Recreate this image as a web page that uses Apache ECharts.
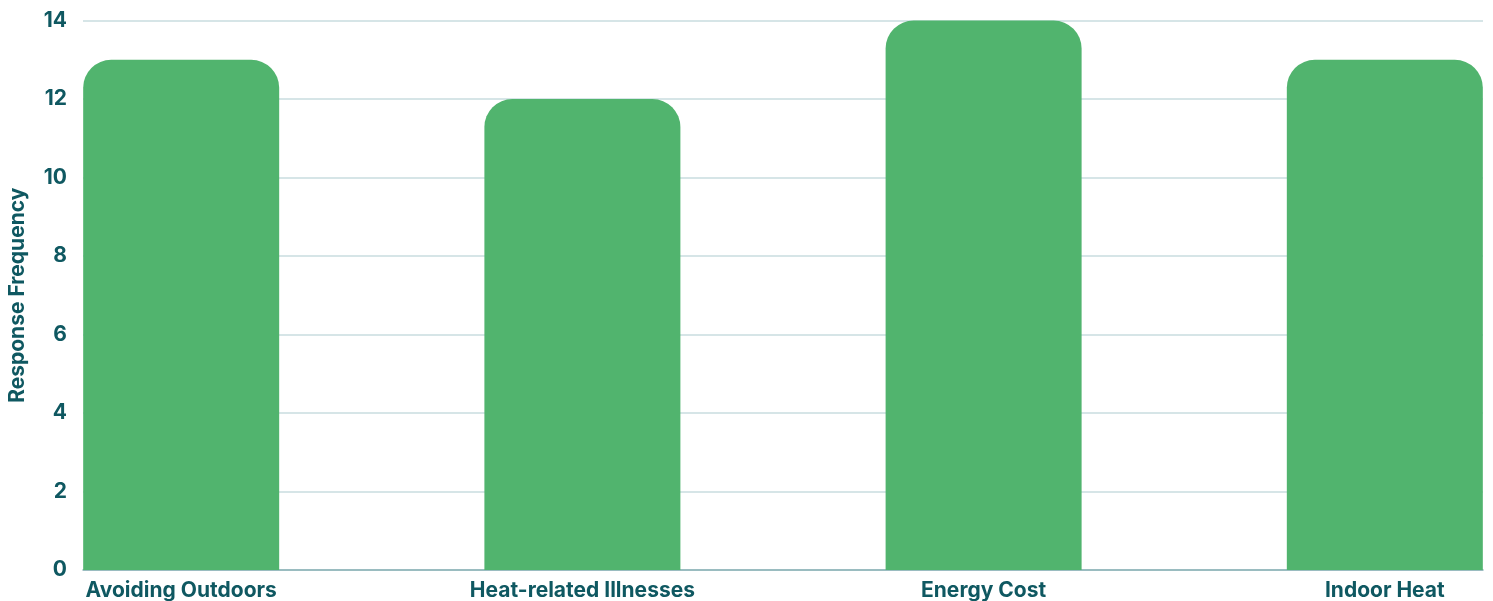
<!DOCTYPE html>
<html>
<head>
<meta charset="utf-8">
<script src="https://cdn.jsdelivr.net/npm/echarts@6/dist/echarts.min.js"></script>
<style>
  html, body { margin: 0; padding: 0; background: #ffffff; }
  #chart { width: 1493px; height: 601px; }
</style>
</head>
<body>
<div id="chart"></div>
<script>
// Reasons given, and how often each was mentioned
const categories = ['Avoiding Outdoors', 'Heat-related Illnesses', 'Energy Cost', 'Indoor Heat'];
const frequencies = [13, 12, 14, 13];
const yTicks = [0, 2, 4, 6, 8, 10, 12, 14];

const textColor = '#0f5861';
const barColor = '#51b46e';
const fontFamily = 'Inter, "Noto Sans", sans-serif';

// Bars sit on a numeric x axis so the first and last bars can touch the plot edges
const edgePad = 0.2447;
const positions = categories.map((_, i) => i);

const chart = echarts.init(document.getElementById('chart'), null, { renderer: 'canvas' });
chart.setOption({
  animation: false,
  grid: { left: 83, right: 10, top: 20.5, bottom: 31, containLabel: false, outerBoundsMode: 'none' },
  xAxis: {
    type: 'value',
    min: -edgePad,
    max: categories.length - 1 + edgePad,
    splitLine: { show: false },
    axisTick: { show: false },
    axisLine: { show: true, lineStyle: { color: '#86aeb4', width: 1.5 } },
    axisLabel: {
      customValues: positions,
      formatter: (v) => categories[Math.round(v)] ?? '',
      color: textColor,
      fontFamily,
      fontWeight: 'bold',
      fontSize: 21,
      margin: 10
    }
  },
  yAxis: {
    type: 'value',
    min: yTicks[0],
    max: yTicks[yTicks.length - 1],
    interval: yTicks[1] - yTicks[0],
    name: 'Response Frequency',
    nameLocation: 'middle',
    nameGap: 55,
    nameTextStyle: { color: textColor, fontFamily, fontWeight: 'bold', fontSize: 21 },
    axisLine: { show: false },
    axisTick: { show: false },
    splitLine: { lineStyle: { color: '#c9dcdf', width: 1.5 } },
    axisLabel: {
      color: textColor,
      fontFamily,
      fontWeight: 'bold',
      fontSize: 21,
      margin: 16
    }
  },
  series: [{
    type: 'bar',
    data: positions.map((p, i) => [p, frequencies[i]]),
    barWidth: 196,
    itemStyle: { color: barColor, borderRadius: [28, 28, 0, 0] }
  }]
});
</script>
</body>
</html>
